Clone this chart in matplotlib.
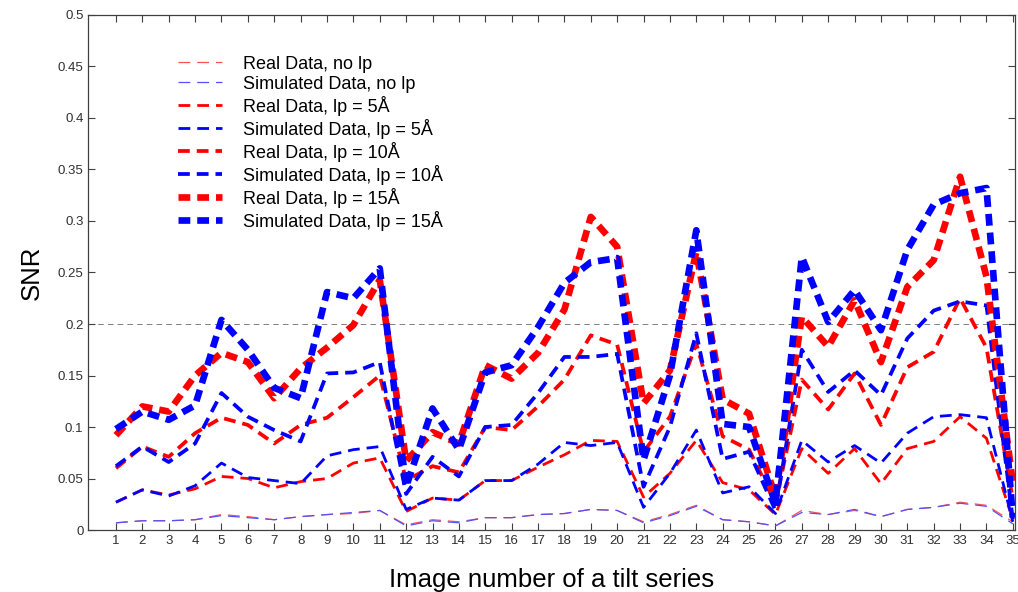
import numpy as np
import matplotlib.pyplot as plt

plt.rcParams['font.family'] = ['Liberation Sans', 'DejaVu Sans']
plt.rcParams['lines.scale_dashes'] = False

images = np.arange(1, 36)

real_nolp = [0.007, 0.009, 0.009, 0.010, 0.015, 0.013, 0.010, 0.013, 0.015, 0.016,
             0.019, 0.005, 0.010, 0.008, 0.012, 0.012, 0.015, 0.016, 0.020, 0.019,
             0.008, 0.015, 0.024, 0.010, 0.008, 0.004, 0.019, 0.015, 0.019, 0.013,
             0.020, 0.022, 0.027, 0.024, 0.008]
sim_nolp = [0.007, 0.009, 0.009, 0.010, 0.014, 0.012, 0.010, 0.013, 0.015, 0.017,
            0.019, 0.004, 0.009, 0.007, 0.012, 0.012, 0.015, 0.016, 0.020, 0.019,
            0.007, 0.014, 0.023, 0.010, 0.008, 0.004, 0.017, 0.015, 0.020, 0.013,
            0.020, 0.022, 0.026, 0.023, 0.006]

real_5 = [0.027, 0.039, 0.034, 0.040, 0.052, 0.050, 0.041, 0.047, 0.050, 0.065,
          0.070, 0.018, 0.031, 0.029, 0.048, 0.048, 0.061, 0.073, 0.087, 0.086,
          0.032, 0.055, 0.087, 0.046, 0.039, 0.015, 0.079, 0.055, 0.079, 0.045,
          0.079, 0.086, 0.110, 0.089, 0.010]
sim_5 = [0.027, 0.039, 0.033, 0.043, 0.065, 0.051, 0.048, 0.045, 0.072, 0.078,
         0.081, 0.020, 0.031, 0.029, 0.048, 0.048, 0.064, 0.085, 0.082, 0.085,
         0.022, 0.055, 0.097, 0.036, 0.042, 0.016, 0.087, 0.066, 0.082, 0.065,
         0.094, 0.110, 0.112, 0.109, 0.008]

real_10 = [0.060, 0.081, 0.071, 0.094, 0.109, 0.102, 0.084, 0.102, 0.109, 0.129,
           0.150, 0.048, 0.062, 0.056, 0.100, 0.097, 0.120, 0.146, 0.189, 0.180,
           0.076, 0.110, 0.181, 0.091, 0.078, 0.026, 0.146, 0.117, 0.152, 0.102,
           0.158, 0.173, 0.225, 0.177, 0.030]
sim_10 = [0.062, 0.081, 0.066, 0.084, 0.133, 0.110, 0.097, 0.086, 0.152, 0.153,
          0.163, 0.035, 0.071, 0.052, 0.100, 0.102, 0.133, 0.168, 0.168, 0.171,
          0.042, 0.100, 0.191, 0.069, 0.076, 0.019, 0.175, 0.134, 0.155, 0.131,
          0.186, 0.213, 0.222, 0.218, 0.010]

real_15 = [0.092, 0.120, 0.115, 0.150, 0.172, 0.163, 0.128, 0.157, 0.177, 0.199,
           0.243, 0.067, 0.095, 0.084, 0.160, 0.147, 0.172, 0.214, 0.304, 0.275,
           0.123, 0.155, 0.270, 0.127, 0.113, 0.032, 0.207, 0.178, 0.223, 0.163,
           0.236, 0.262, 0.343, 0.246, 0.045]
sim_15 = [0.098, 0.115, 0.107, 0.121, 0.204, 0.175, 0.138, 0.128, 0.231, 0.225,
          0.254, 0.042, 0.118, 0.078, 0.153, 0.160, 0.197, 0.240, 0.260, 0.264,
          0.068, 0.150, 0.291, 0.103, 0.100, 0.026, 0.265, 0.202, 0.233, 0.194,
          0.272, 0.316, 0.327, 0.332, 0.012]

labels = ['Real Data, no lp', 'Simulated Data, no lp',
          'Real Data, lp = 5Å', 'Simulated Data, lp = 5Å',
          'Real Data, lp = 10Å', 'Simulated Data, lp = 10Å',
          'Real Data, lp = 15Å', 'Simulated Data, lp = 15Å']
series = [real_nolp, sim_nolp, real_5, sim_5, real_10, sim_10, real_15, sim_15]
widths = [0.9, 0.9, 2.0, 2.0, 2.7, 2.7, 4.8, 4.8]
colors = ['#ff5050', '#5050ff', 'red', 'blue', 'red', 'blue', 'red', 'blue']
dash = (8.5, 5)

fig = plt.figure(figsize=(10.18, 5.92), dpi=100)
ax = fig.add_axes([0.0867, 0.1047, 0.9103, 0.87])

ax.axhline(0.2, color='#808080', lw=0.7, dashes=(4, 3), zorder=1)

for i in range(len(series)):
    ax.plot(images, series[i], color=colors[i], lw=widths[i], dashes=dash,
            label=labels[i], zorder=2)

ax.set_xlim(-0.05, 35.08)
ax.set_ylim(0, 0.5)
ax.set_xticks(images)
ax.set_yticks(np.arange(0, 0.51, 0.05))
ax.set_yticklabels(['0', '0.05', '0.1', '0.15', '0.2', '0.25', '0.3', '0.35', '0.4', '0.45', '0.5'])
ax.tick_params(direction='in', length=5, width=0.8, top=True, right=True,
               colors='#404040', labelsize=9.5, labelcolor='#303030')
for s in ax.spines.values():
    s.set_color('#404040')
    s.set_linewidth(0.9)

ax.set_xlabel('Image number of a tilt series', fontsize=18.5, labelpad=15)
ax.set_ylabel('SNR', fontsize=18.5, labelpad=10)

ax.legend(loc='upper left', bbox_to_anchor=(0.097, 0.921), frameon=False,
          fontsize=13, handlelength=2.45, handletextpad=1.15, labelspacing=0.165,
          borderpad=0, borderaxespad=0)

plt.savefig('out.png', dpi=100)
